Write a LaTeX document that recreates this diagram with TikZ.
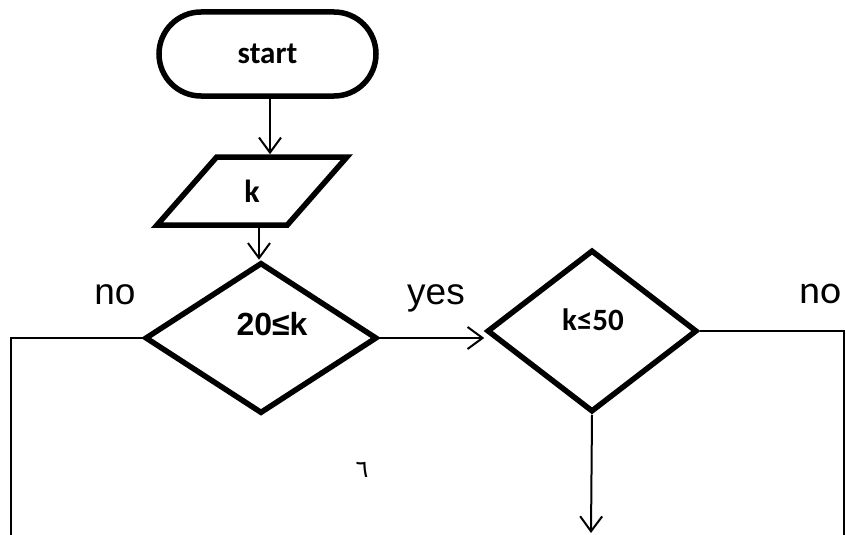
\documentclass[tikz,border=0pt]{standalone}
\usepackage{fontspec}
\setmainfont{Carlito}
\newfontfamily\arialfont{Liberation Sans}
\newfontfamily\arabicfont[Script=Arabic]{DejaVu Sans}
\usetikzlibrary{arrows.meta}
\usetikzlibrary{shapes.misc,shapes.geometric}

\begin{document}
\begin{tikzpicture}[x=1pt,y=-1pt,line width=2pt,
    >={Straight Barb[length=15pt,width=22pt]},
    outline/.style={draw,line width=5.5pt,inner sep=0pt},
    term/.style={outline,rounded rectangle,minimum width=217pt,minimum height=84pt},
    io/.style={outline,trapezium,trapezium left angle=60,trapezium right angle=120,
      trapezium stretches=true,minimum width=190pt,minimum height=68pt},
    test/.style={outline,diamond},
    bold/.style={font=\fontsize{31}{34}\selectfont\bfseries},
    answer/.style={anchor=base,font=\fontsize{37}{40}\selectfont\arialfont}]
      \useasboundingbox (0,0) rectangle (846,535);
      \node (start) [term,bold] at (267.5,54) {start};
      \node (K) [io,bold,font=\fontsize{32}{34}\selectfont\bfseries] at (252,191) {k};
      \node (C1) [test,minimum width=232pt,minimum height=151pt] at (261,338) {};
      \node (C2) [test,minimum width=210pt,minimum height=162pt] at (592,331) {};
      \node (T1) at ([shift={(11,-14)}]C1.center)
        {\fontsize{32}{34}\selectfont\arialfont\bfseries 20≤k};
      \node (T2) [font=\fontsize{31}{33}\selectfont\bfseries]
        at ([shift={(1,-11)}]C2.center) {k≤50};
      % labels of the branches
      \node (no1) [answer] at (115,304) {no};
      \node (yes) [answer] at (436,304) {yes};
      \node (no2) [anchor=base,font=\fontsize{40}{42}\selectfont] at (821,303) {no};
      \node (six) [font=\fontsize{24}{26}\selectfont\arabicfont] at (362,470) {٦};
      \coordinate (L) at (11,536);
      \coordinate (R) at (844,536);
      \coordinate (B) at (591,533);
      \draw[->] ([xshift=2.5pt]start.south) -- ([xshift=2.5pt]start.south |- K.north);
      \draw[->] ([xshift=7pt]K.south) -- ([xshift=7pt]K.south |- C1.north);
      \draw[->] (C1.east) -- (C1.east -| C2.west);
      \draw (C1.west) -| (L);
      \draw (C2.east) -| (R);
      \draw[->] (C2.south) -- (B);
    \end{tikzpicture}
\end{document}
